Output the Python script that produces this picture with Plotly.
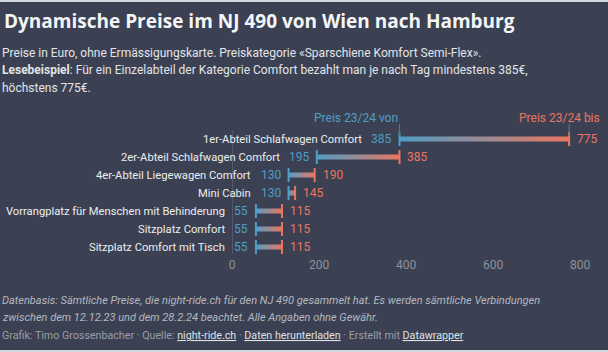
import plotly.graph_objects as go

categories = [
    "1er-Abteil Schlafwagen Comfort",
    "2er-Abteil Schlafwagen Comfort",
    "4er-Abteil Liegewagen Comfort",
    "Mini Cabin",
    "Vorrangplatz für Menschen mit Behinderung",
    "Sitzplatz Comfort",
    "Sitzplatz Comfort mit Tisch",
]
price_from = [385, 195, 130, 130, 55, 55, 55]
price_to = [775, 385, 190, 145, 115, 115, 115]
x_ticks = [0, 200, 400, 600, 800]
series_names = ["Preis 23/24 von", "Preis 23/24 bis"]

W, H = 608, 352
ML, MR, MT, MB = 232, 28, 130, 96
PW, PH = W - ML - MR, H - MT - MB

BG = "#3b4152"
BLUE = "#4e9ec6"
RED = "#ec7560"
TEXT = "#eceef0"
GREY = "#8d929c"
FONT = "Roboto"


def px_x(px):
    return (px - ML) / PW


def px_y(py):
    return (H - MB - py) / PH


fig = go.Figure()
half = 0.14
for i, (a, b) in enumerate(zip(price_from, price_to)):
    fig.add_trace(go.Scatter(
        x=[a, b, b, a, a], y=[i - half, i - half, i + half, i + half, i - half],
        mode="lines", fill="toself", line=dict(width=0),
        fillgradient=dict(type="horizontal", colorscale=[[0, BLUE], [1, RED]]),
        hoverinfo="skip", showlegend=False,
    ))

ys = list(range(len(categories)))
fig.add_trace(go.Scatter(
    x=price_from, y=ys, mode="markers", showlegend=False,
    marker=dict(symbol="line-ns", size=10, line=dict(width=2, color=BLUE)),
))
fig.add_trace(go.Scatter(
    x=price_to, y=ys, mode="markers", showlegend=False,
    marker=dict(symbol="line-ns", size=10, line=dict(width=2, color=RED)),
))

ann = []
for i, (c, a, b) in enumerate(zip(categories, price_from, price_to)):
    ann.append(dict(x=a, y=i, xref="x", yref="y", text=str(a), showarrow=False,
                    xanchor="right", yanchor="middle", xshift=-6,
                    font=dict(family=FONT, size=12, color=BLUE)))
    ann.append(dict(x=b, y=i, xref="x", yref="y", text=str(b), showarrow=False,
                    xanchor="left", yanchor="middle", xshift=6,
                    font=dict(family=FONT, size=12, color=RED)))
    w = 6.4 * len(str(a))
    ann.append(dict(x=a, y=i, xref="x", yref="y", text=c, showarrow=False,
                    xanchor="right", yanchor="middle", xshift=-(6 + w + 10),
                    font=dict(family=FONT, size=11.2, color=TEXT)))

# header series labels
ann.append(dict(x=price_from[0], y=px_y(118), xref="x", yref="paper", text=series_names[0],
                showarrow=False, xanchor="right", yanchor="middle", xshift=1,
                font=dict(family=FONT, size=12, color=BLUE)))
ann.append(dict(x=px_x(602), y=px_y(118), xref="paper", yref="paper", text=series_names[1],
                showarrow=False, xanchor="right", yanchor="middle",
                font=dict(family=FONT, size=12, color=RED)))


def text_line(txt, px, py, size, color, family=FONT):
    ann.append(dict(x=px_x(px), y=px_y(py), xref="paper", yref="paper", xanchor="left",
                    yanchor="middle", align="left", text=txt, showarrow=False,
                    font=dict(family=family, size=size, color=color)))


text_line("<b>Dynamische Preise im NJ 490 von Wien nach Hamburg</b>", 2, 21, 19, "#f4f5f6",
          family="Open Sans")
sub_lines = [
    "Preise in Euro, ohne Ermässigungskarte. Preiskategorie «Sparschiene Komfort Semi-Flex».",
    "<b>Lesebeispiel</b>: Für ein Einzelabteil der Kategorie Comfort bezahlt man je nach Tag mindestens 385€,",
    "höchstens 775€.",
]
for k, s in enumerate(sub_lines):
    text_line(s, 0, 53 + 17.5 * k, 12, "#e2e4e8")
note_lines = [
    "<i>Datenbasis: Sämtliche Preise, die night-ride.ch für den NJ 490 gesammelt hat. Es werden sämtliche Verbindungen</i>",
    "<i>zwischen dem 12.12.23 und dem 28.2.24 beachtet. Alle Angaben ohne Gewähr.</i>",
]
for k, s in enumerate(note_lines):
    text_line(s, 0, 300 + 17 * k, 11, "#b4b8c0")
credit = ("Grafik: Timo Grossenbacher · Quelle: <span style='text-decoration:underline;fill:#dfe1e5'>night-ride.ch</span> · "
          "<span style='text-decoration:underline;fill:#dfe1e5'>Daten herunterladen</span> · Erstellt mit "
          "<span style='text-decoration:underline;fill:#dfe1e5'>Datawrapper</span>")
text_line(credit, 0, 335, 10.7, "#9a9ea7")

shapes = [
    dict(type="line", xref="x", yref="paper", x0=0, x1=0, y0=px_y(254), y1=px_y(130),
         line=dict(color="#6e7380", width=1)),
    dict(type="line", xref="x", yref="paper", x0=price_from[0], x1=price_from[0],
         y0=px_y(136), y1=px_y(124), line=dict(color="#6e7380", width=1)),
    dict(type="line", xref="x", yref="paper", x0=price_to[0], x1=price_to[0],
         y0=px_y(136), y1=px_y(124), line=dict(color="#6e7380", width=1)),
    dict(type="line", xref="paper", yref="paper", x0=px_x(0), x1=px_x(W), y0=px_y(1), y1=px_y(1),
         line=dict(color="#d4d8de", width=2)),
    dict(type="line", xref="paper", yref="paper", x0=px_x(0), x1=px_x(W), y0=px_y(351), y1=px_y(351),
         line=dict(color="#d4d8de", width=2)),
]

fig.update_layout(
    width=W, height=H, margin=dict(l=ML, r=MR, t=MT, b=MB),
    paper_bgcolor=BG, plot_bgcolor=BG, showlegend=False,
    annotations=ann, shapes=shapes,
    xaxis=dict(range=[0, 800], tickvals=x_ticks, showgrid=False, zeroline=False,
               showline=False, ticks="", tickfont=dict(family=FONT, size=12, color=GREY)),
    yaxis=dict(range=[6.5, -0.5], showticklabels=False, showgrid=False, zeroline=False,
               showline=False, ticks=""),
)

fig.write_html("out.html", config={"displayModeBar": False})
